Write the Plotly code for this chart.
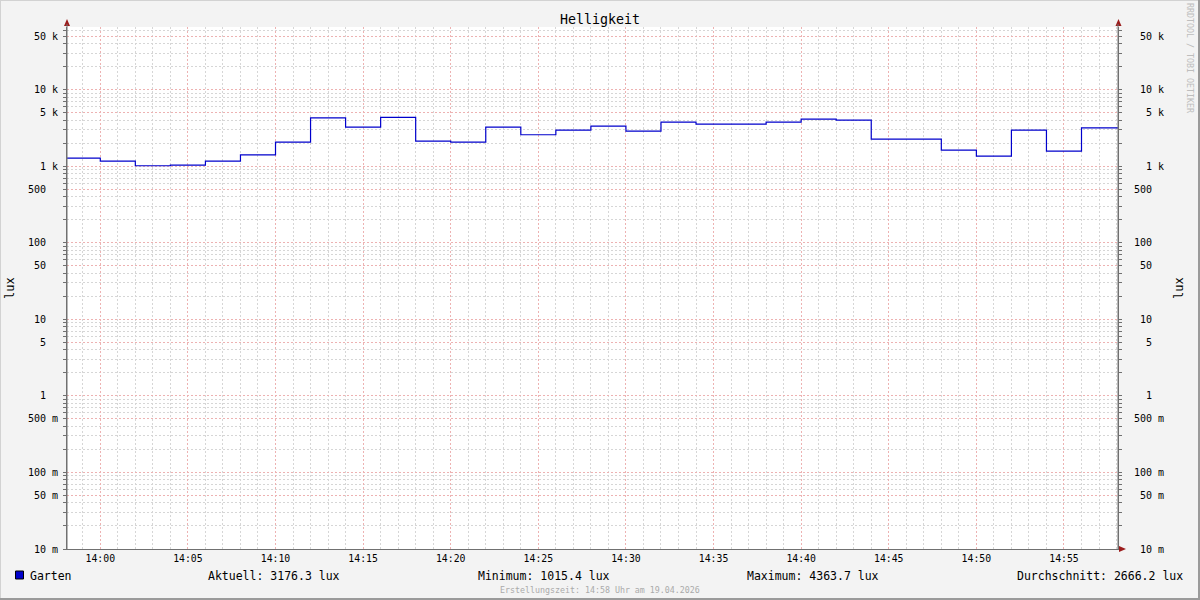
import math
import plotly.graph_objects as go

# ---------------- data ----------------
step_starts = [
    "2026-04-19 13:58", "2026-04-19 14:00", "2026-04-19 14:02", "2026-04-19 14:04",
    "2026-04-19 14:06", "2026-04-19 14:08", "2026-04-19 14:10", "2026-04-19 14:12",
    "2026-04-19 14:14", "2026-04-19 14:16", "2026-04-19 14:18", "2026-04-19 14:20",
    "2026-04-19 14:22", "2026-04-19 14:24", "2026-04-19 14:26", "2026-04-19 14:28",
    "2026-04-19 14:30", "2026-04-19 14:32", "2026-04-19 14:34", "2026-04-19 14:36",
    "2026-04-19 14:38", "2026-04-19 14:40", "2026-04-19 14:42", "2026-04-19 14:44",
    "2026-04-19 14:46", "2026-04-19 14:48", "2026-04-19 14:50", "2026-04-19 14:52",
    "2026-04-19 14:54", "2026-04-19 14:56",
]
series_end = "2026-04-19 14:58:05"
lux_values = [
    1280, 1170, 1015.4, 1037, 1170, 1413, 2071, 4300, 3253, 4363.7,
    2135, 2071, 3253, 2582, 2972, 3352, 2884, 3783, 3562, 3562,
    3783, 4140, 4018, 2268, 2268, 1629, 1360, 2972, 1580, 3176.3,
]
series_name = "Garten"
stats_labels = ["Aktuell: 3176.3 lux", "Minimum: 1015.4 lux",
                "Maximum: 4363.7 lux", "Durchschnitt: 2666.2 lux"]

x_range = ["2026-04-19 13:58:06", "2026-04-19 14:58:05"]
x_tickvals = ["2026-04-19 14:%02d" % m for m in range(0, 60, 5)]
x_ticktext = ["14:%02d" % m for m in range(0, 60, 5)]
x_minor_vals = ["2026-04-19 13:59"] + ["2026-04-19 14:%02d" % m for m in range(0, 59)]

y_tickvals = [0.01, 0.05, 0.1, 0.5, 1, 5, 10, 50, 100, 500, 1000, 5000, 10000, 50000]
y_ticktext = ["10 m", "50 m", "100 m", "500 m", "1", "5", "10", "50", "100", "500",
              "1 k", "5 k", "10 k", "50 k"]
y_minor_vals = [k * 10 ** n for n in range(-2, 5) for k in range(1, 10) if k * 10 ** n <= 66000]
y_min, y_max = 0.01, 66000

title_text = "Helligkeit"
y_title = "lux"
footer_text = "Erstellungszeit: 14:58 Uhr am 19.04.2026"
watermark = "RRDTOOL / TOBI OETIKER"

# ---------------- layout helpers ----------------
W, H = 1200, 600
L, R, T, B = 67, 1118, 27, 549
NB = "\u00a0"


def px(xp):
    return (xp - L) / (R - L)


def py(yp):
    return (B - yp) / (B - T)


FONT = "DejaVu Sans Mono"
LINE_BLUE = "#0000CC"
GRID_MINOR = "#D6D6D6"
GRID_MAJOR = "#EDB2B2"
AXIS_COL = "#707070"
ARROW_COL = "#9B1C1C"


def left_label(t):
    return t if " " in t else t + NB + NB


def right_label(t):
    s = left_label(t)
    return NB * (5 - len(s)) + s


x_line = step_starts + [series_end]
y_line = lux_values + [lux_values[-1]]

fig = go.Figure()
fig.add_trace(go.Scatter(
    x=x_line, y=y_line, mode="lines", line=dict(color=LINE_BLUE, width=1.2, shape="hv"),
    name=series_name, hoverinfo="skip", showlegend=False, yaxis="y"))
fig.add_trace(go.Scatter(
    x=x_line, y=y_line, mode="lines", line=dict(color="rgba(0,0,0,0)", width=0),
    hoverinfo="skip", showlegend=False, yaxis="y2"))

yaxis_common = dict(
    type="log", range=[math.log10(y_min), math.log10(y_max)],
    tickmode="array", tickvals=y_tickvals,
    tickfont=dict(family=FONT, size=10, color="#000000"),
    ticks="outside", ticklen=3, tickcolor=AXIS_COL, tickwidth=1,
    showline=True, linecolor=AXIS_COL, linewidth=1,
    zeroline=False, fixedrange=True,
)

fig.update_layout(
    width=W, height=H, autosize=False,
    margin=dict(l=L, r=W - R, t=T, b=H - B, pad=0),
    paper_bgcolor="#F3F3F3", plot_bgcolor="#FFFFFF",
    showlegend=False,
    font=dict(family=FONT, size=10, color="#000000"),
    xaxis=dict(
        type="date", range=x_range, tickmode="array", tickvals=x_tickvals, ticktext=x_ticktext,
        tickfont=dict(family=FONT, size=9.8, color="#000000"),
        ticks="", showline=True, linecolor=AXIS_COL, linewidth=1,
        showgrid=True, gridcolor=GRID_MAJOR, griddash="2px,2px", gridwidth=1,
        minor=dict(tickmode="array", tickvals=x_minor_vals, showgrid=True,
                   gridcolor=GRID_MINOR, griddash="2px,2px", gridwidth=1, ticks=""),
        zeroline=False, fixedrange=True, ticklabelstandoff=0,
    ),
    yaxis=dict(
        **yaxis_common,
        ticktext=[left_label(t) for t in y_ticktext],
        side="left",
        showgrid=True, gridcolor=GRID_MAJOR, griddash="2px,2px", gridwidth=1,
        minor=dict(tickmode="array", tickvals=y_minor_vals, showgrid=True,
                   gridcolor=GRID_MINOR, griddash="2px,2px", gridwidth=1,
                   ticks="outside", ticklen=3, tickcolor=AXIS_COL),
        ticklabelstandoff=3,
    ),
    yaxis2=dict(
        **yaxis_common,
        ticktext=[right_label(t) for t in y_ticktext],
        side="right", overlaying="y", anchor="x",
        showgrid=False,
        minor=dict(tickmode="array", tickvals=y_minor_vals, showgrid=False,
                   ticks="outside", ticklen=3, tickcolor=AXIS_COL),
        ticklabelstandoff=10,
    ),
)

ann = []
ann.append(dict(text=title_text, x=px(600), y=py(19), xref="paper", yref="paper",
                showarrow=False, font=dict(family=FONT, size=13.3, color="#000000"),
                xanchor="center", yanchor="middle"))
ann.append(dict(text=y_title, x=px(10), y=py(288), xref="paper", yref="paper", textangle=-90,
                showarrow=False, font=dict(family=FONT, size=12, color="#000000"),
                xanchor="center", yanchor="middle"))
ann.append(dict(text=y_title, x=px(1179), y=py(288), xref="paper", yref="paper", textangle=-90,
                showarrow=False, font=dict(family=FONT, size=12, color="#000000"),
                xanchor="center", yanchor="middle"))
ann.append(dict(text=watermark, x=px(1190), y=py(58), xref="paper", yref="paper", textangle=90,
                showarrow=False, font=dict(family=FONT, size=8.3, color="#BDBDBD"),
                xanchor="center", yanchor="middle"))
ann.append(dict(text=series_name, x=px(28), y=py(575.5), xref="paper", yref="paper",
                showarrow=False, font=dict(family=FONT, size=11.5, color="#000000"),
                xanchor="left", yanchor="middle"))
stat_pos = [(206, "left"), (476, "left"), (745, "left"), (1185, "right")]
for (xp, anc), txt in zip(stat_pos, stats_labels):
    ann.append(dict(text=txt, x=px(xp), y=py(575.5), xref="paper", yref="paper",
                    showarrow=False, font=dict(family=FONT, size=11.5, color="#000000"),
                    xanchor=anc, yanchor="middle"))
ann.append(dict(text=footer_text, x=px(600), y=py(589.5), xref="paper", yref="paper",
                showarrow=False, font=dict(family=FONT, size=8.3, color="#AAAAAA"),
                xanchor="center", yanchor="middle"))
fig.update_layout(annotations=ann)

shapes = []
shapes.append(dict(type="rect", xref="paper", yref="paper",
                   x0=px(15.5), x1=px(23.5), y0=py(571), y1=py(579),
                   fillcolor=LINE_BLUE, line=dict(color="#000000", width=1)))


def tri(points):
    p = " L ".join("%f,%f" % (px(a), py(b)) for a, b in points)
    return "M " + p + " Z"


shapes.append(dict(type="path", xref="paper", yref="paper", path=tri([(67, 19), (64, 26), (70, 26)]),
                   fillcolor=ARROW_COL, line=dict(width=0)))
shapes.append(dict(type="path", xref="paper", yref="paper", path=tri([(1118.5, 19), (1115.5, 26), (1121.5, 26)]),
                   fillcolor=ARROW_COL, line=dict(width=0)))
shapes.append(dict(type="path", xref="paper", yref="paper", path=tri([(1126, 549), (1119, 546), (1119, 552)]),
                   fillcolor=ARROW_COL, line=dict(width=0)))
shapes.append(dict(type="line", xref="paper", yref="paper", x0=px(67), x1=px(67), y0=py(549), y1=py(24),
                   line=dict(color=AXIS_COL, width=1)))
shapes.append(dict(type="line", xref="paper", yref="paper", x0=px(1118), x1=px(1118), y0=py(549), y1=py(24),
                   line=dict(color=AXIS_COL, width=1)))
shapes.append(dict(type="line", xref="paper", yref="paper", x0=px(0), x1=px(1200), y0=py(0.5), y1=py(0.5),
                   line=dict(color="#D2D2D2", width=1)))
shapes.append(dict(type="line", xref="paper", yref="paper", x0=px(0.5), x1=px(0.5), y0=py(0), y1=py(600),
                   line=dict(color="#D2D2D2", width=1)))
shapes.append(dict(type="line", xref="paper", yref="paper", x0=px(0), x1=px(1200), y0=py(599), y1=py(599),
                   line=dict(color="#9A9A9A", width=2)))
shapes.append(dict(type="line", xref="paper", yref="paper", x0=px(1199), x1=px(1199), y0=py(0), y1=py(600),
                   line=dict(color="#9A9A9A", width=2)))
fig.update_layout(shapes=shapes)

fig.write_html("out.html", config={"displayModeBar": False, "staticPlot": True},
               post_script="document.body.style.margin='0';document.body.style.overflow='hidden';")
